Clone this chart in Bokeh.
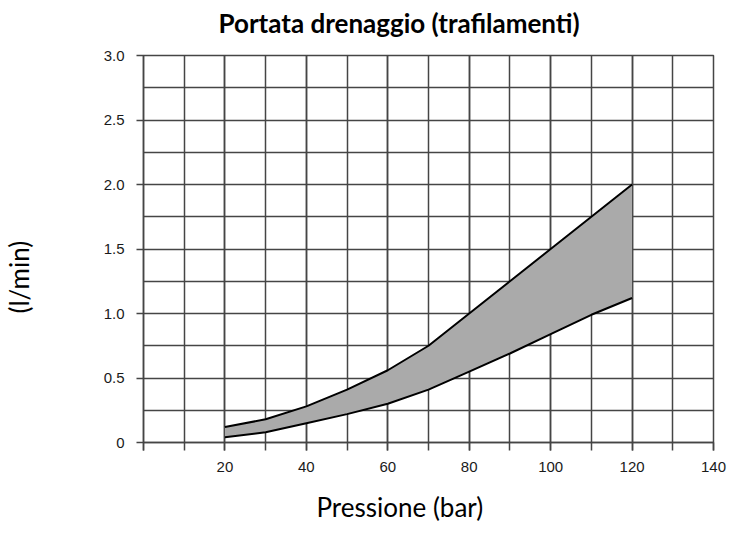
from bokeh.plotting import figure
from bokeh.models import (Range1d, FixedTicker, ColumnDataSource,
                          NumeralTickFormatter, Title, LinearAxis)
from bokeh.embed import file_html
from bokeh.resources import INLINE

# data
pressure = [20, 30, 40, 50, 60, 70, 80, 90, 100, 110, 120]
upper = [0.12, 0.18, 0.28, 0.41, 0.56, 0.75, 1.00, 1.25, 1.50, 1.75, 2.00]
lower = [0.04, 0.08, 0.15, 0.22, 0.30, 0.41, 0.55, 0.69, 0.84, 0.99, 1.12]
x_ticks = [0, 20, 40, 60, 80, 100, 120, 140]
x_minor = [0, 10, 20, 30, 40, 50, 60, 70, 80, 90, 100, 110, 120, 130, 140]
y_ticks = [0, 0.5, 1.0, 1.5, 2.0, 2.5, 3.0]
y_minor = [0.25, 0.75, 1.25, 1.75, 2.25, 2.75]
title_text = "Portata drenaggio (trafilamenti)"
x_label = "Pressione (bar)"
y_label = "(l/min)"

GRID = "#454545"

p = figure(width=729, height=545, output_backend="svg", toolbar_location=None,
           x_range=Range1d(0, 140), y_range=Range1d(0, 3),
           min_border_left=143, min_border_right=16, min_border_top=55, min_border_bottom=103)
p.background_fill_color = "white"
p.border_fill_color = "white"
p.outline_line_color = GRID
p.outline_line_width = 1.5

src = ColumnDataSource(dict(x=pressure, up=upper, lo=lower))
p.varea(x="x", y1="lo", y2="up", source=src, fill_color="#aaaaaa")
p.line(x="x", y="up", source=src, line_color="black", line_width=2)
p.line(x="x", y="lo", source=src, line_color="black", line_width=2)

p.xaxis.ticker = FixedTicker(ticks=x_ticks, minor_ticks=x_minor)
p.yaxis.ticker = FixedTicker(ticks=y_ticks, minor_ticks=y_minor)
p.yaxis.formatter = NumeralTickFormatter(format="0.0")
p.xaxis.major_label_overrides = {0: ""}
p.yaxis.major_label_overrides = {0: "0"}

for ax in (p.xaxis, p.yaxis):
    ax.axis_line_color = GRID
    ax.axis_line_width = 1.5
    ax.major_tick_line_color = GRID
    ax.major_tick_line_width = 1.5
    ax.minor_tick_line_color = GRID
    ax.minor_tick_line_width = 1.5
    ax.major_tick_in = 0
    ax.minor_tick_in = 0
    ax.major_label_text_font = "Liberation Sans"
    ax.major_label_text_font_size = "15px"
    ax.major_label_text_color = "#1a1a1a"

p.xaxis.major_label_standoff = 11
p.yaxis.major_label_standoff = 12
p.xaxis.major_tick_out = 8
p.xaxis.minor_tick_out = 8
p.yaxis.major_tick_out = 7
p.yaxis.minor_tick_out = 0

for g in (p.xgrid, p.ygrid):
    g.grid_line_color = GRID
    g.grid_line_width = 1.5
    g.grid_line_alpha = 1.0
    g.minor_grid_line_color = GRID
    g.minor_grid_line_width = 1.5
p.xgrid.ticker = FixedTicker(ticks=x_ticks, minor_ticks=x_minor)
p.ygrid.ticker = FixedTicker(ticks=y_ticks, minor_ticks=y_minor)


def spacer(size):
    # invisible axis used only to reserve room between the axis and its title
    return LinearAxis(ticker=FixedTicker(ticks=[0], minor_ticks=[]), axis_line_alpha=0,
                      major_tick_out=size, major_tick_in=0, minor_tick_out=0, minor_tick_in=0,
                      major_tick_line_alpha=0, minor_tick_line_alpha=0,
                      major_label_overrides={0: ""}, major_label_standoff=0)


p.add_layout(spacer(66), "left")
p.add_layout(spacer(17), "above")
p.add_layout(spacer(14), "below")

FS = "26px"
p.add_layout(Title(text=title_text, align="left", offset=75, standoff=0,
                   text_font="Lato", text_font_style="bold", text_font_size=FS,
                   text_color="black"), "above")
p.add_layout(Title(text=x_label, align="left", offset=173, standoff=0,
                   text_font="Lato", text_font_style="normal", text_font_size=FS,
                   text_color="black"), "below")
p.add_layout(Title(text=y_label, align="left", offset=129, standoff=0,
                   text_font="Lato", text_font_style="normal", text_font_size=FS,
                   text_color="black"), "left")

open("out.html", "w").write(file_html(p, INLINE))
